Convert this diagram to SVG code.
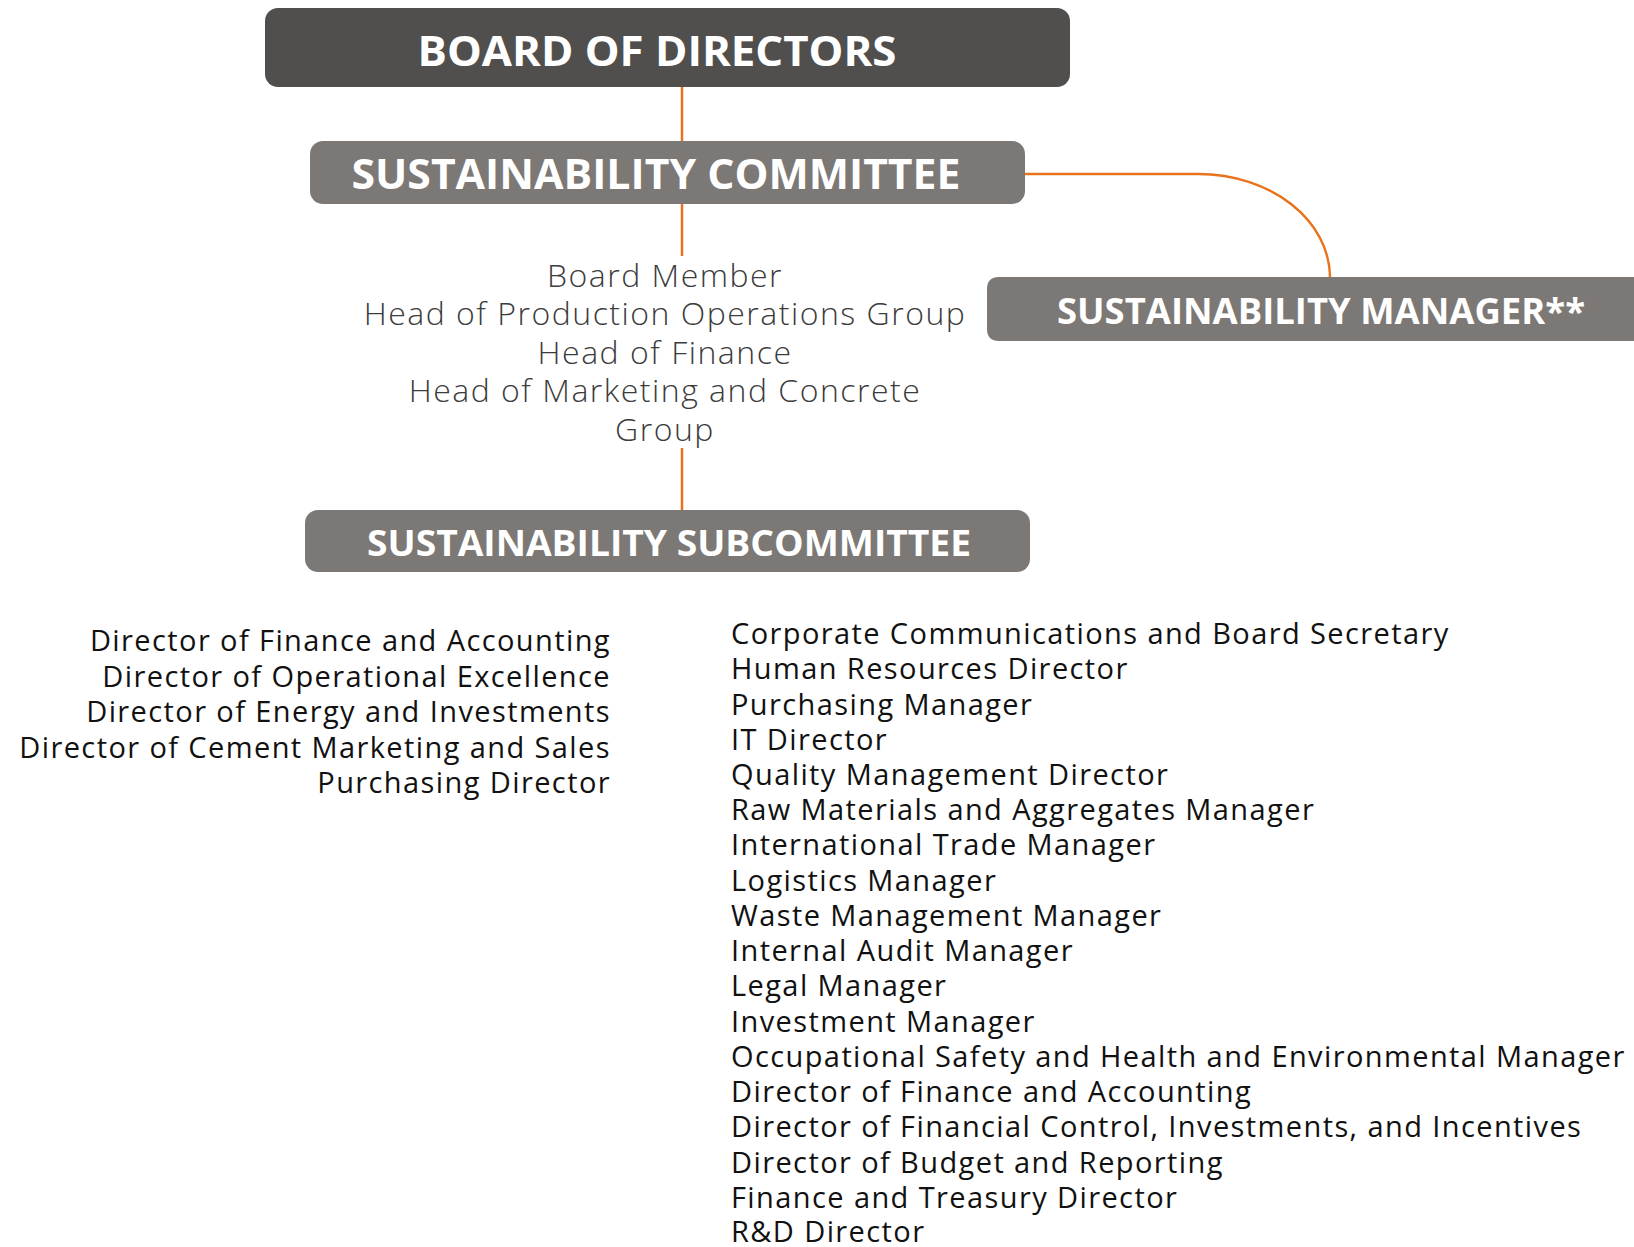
<svg xmlns="http://www.w3.org/2000/svg" width="1634" height="1247" viewBox="0 0 1634 1247">
  <style>
    .box-dark { fill: #504f4d; }
    .box { fill: #7c7876; }
    .head { font-family: "Open Sans", "Liberation Sans", sans-serif; font-weight: 700; fill: #ffffff; }
    .member { font-family: "Open Sans", "Lato", sans-serif; font-weight: 300; font-size: 32px; letter-spacing: 1.5px; fill: #3c3c3c; text-anchor: middle; }
    .list { font-family: "Open Sans", "Liberation Sans", sans-serif; font-weight: 400; font-size: 29px; letter-spacing: 1.4px; fill: #111111; }
    .link { fill: none; stroke: #e8731c; stroke-width: 2.5; }
  </style>

  <rect width="1634" height="1247" fill="#ffffff"/>

  <g id="connectors">
    <line class="link" x1="682" y1="72" x2="682" y2="141"/>
    <line class="link" x1="682" y1="204" x2="682" y2="256"/>
    <line class="link" x1="682" y1="448" x2="682" y2="512"/>
    <path class="link" d="M1025,174 H1198 C1271,174 1330,220 1330,278"/>
  </g>

  <g id="board">
    <rect class="box-dark" x="265" y="8" width="805" height="79" rx="13"/>
    <text class="head" x="657" y="66" font-size="41" text-anchor="middle" textLength="479" lengthAdjust="spacingAndGlyphs">BOARD OF DIRECTORS</text>
  </g>

  <g id="committee">
    <rect class="box" x="310" y="141" width="715" height="63" rx="13"/>
    <text class="head" x="656" y="189" font-size="42" text-anchor="middle" textLength="609" lengthAdjust="spacingAndGlyphs">SUSTAINABILITY COMMITTEE</text>
  </g>

  <g id="committee-members">
    <text class="member" x="665" y="287">Board Member</text>
    <text class="member" x="665" y="325">Head of Production Operations Group</text>
    <text class="member" x="665" y="364">Head of Finance</text>
    <text class="member" x="665" y="402">Head of Marketing and Concrete</text>
    <text class="member" x="665" y="441">Group</text>
  </g>

  <g id="manager">
    <path class="box" d="M999,277 H1650 V341 H999 Q987,341 987,329 V289 Q987,277 999,277 Z"/>
    <text class="head" x="1057" y="324" font-size="36" textLength="528" lengthAdjust="spacingAndGlyphs">SUSTAINABILITY MANAGER**</text>
  </g>

  <g id="subcommittee">
    <rect class="box" x="305" y="510" width="725" height="62" rx="13"/>
    <text class="head" x="669" y="556" font-size="36" text-anchor="middle" textLength="604" lengthAdjust="spacingAndGlyphs">SUSTAINABILITY SUBCOMMITTEE</text>
  </g>

  <g id="subcommittee-left" class="list" text-anchor="end">
    <text x="611" y="651">Director of Finance and Accounting</text>
    <text x="611" y="687">Director of Operational Excellence</text>
    <text x="611" y="722">Director of Energy and Investments</text>
    <text x="611" y="758">Director of Cement Marketing and Sales</text>
    <text x="611" y="793">Purchasing Director</text>
  </g>

  <g id="subcommittee-right" class="list">
    <text x="731" y="644">Corporate Communications and Board Secretary</text>
    <text x="731" y="679">Human Resources Director</text>
    <text x="731" y="715">Purchasing Manager</text>
    <text x="731" y="750">IT Director</text>
    <text x="731" y="785">Quality Management Director</text>
    <text x="731" y="820">Raw Materials and Aggregates Manager</text>
    <text x="731" y="855">International Trade Manager</text>
    <text x="731" y="891">Logistics Manager</text>
    <text x="731" y="926">Waste Management Manager</text>
    <text x="731" y="961">Internal Audit Manager</text>
    <text x="731" y="996">Legal Manager</text>
    <text x="731" y="1032">Investment Manager</text>
    <text x="731" y="1067">Occupational Safety and Health and Environmental Manager</text>
    <text x="731" y="1102">Director of Finance and Accounting</text>
    <text x="731" y="1137">Director of Financial Control, Investments, and Incentives</text>
    <text x="731" y="1173">Director of Budget and Reporting</text>
    <text x="731" y="1208">Finance and Treasury Director</text>
    <text x="731" y="1242">R&amp;D Director</text>
  </g>
</svg>
